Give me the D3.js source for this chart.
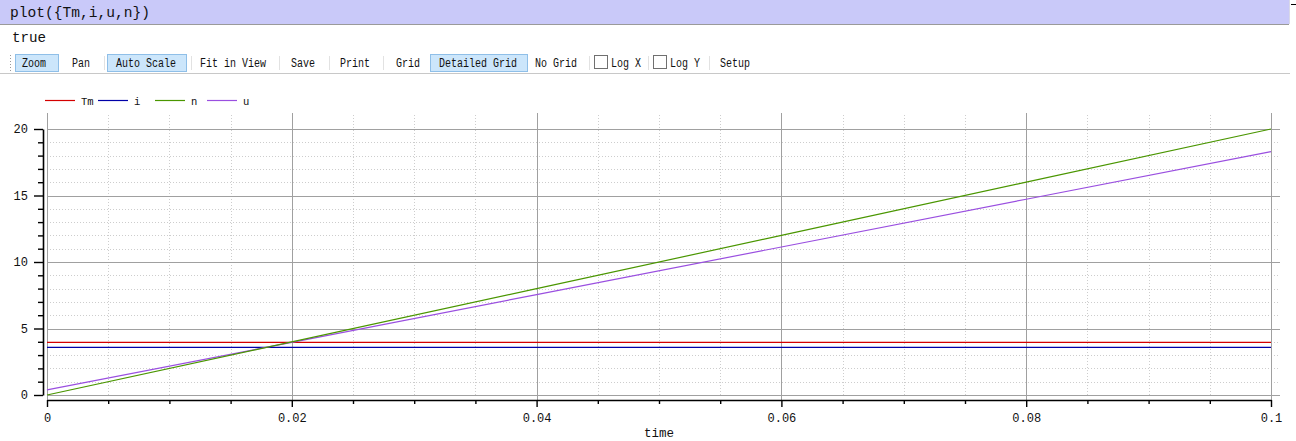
<!DOCTYPE html>
<html><head><meta charset="utf-8">
<script src="https://cdn.jsdelivr.net/npm/d3@7"></script>
<style>html,body{margin:0;padding:0;background:#fff;overflow:hidden}</style>
</head><body>
<script>
// ---- data ----
const time = [0, 0.02, 0.04, 0.06, 0.08, 0.1];
const Tm = [3.96, 3.96, 3.96, 3.96, 3.96, 3.96];
const iVals = [3.58, 3.58, 3.58, 3.58, 3.58, 3.58];
const nVals = [0, 4, 8, 12, 16, 20];
const uVals = [0.38, 3.96, 7.55, 11.13, 14.72, 18.3];
const seriesNames = ["Tm", "i", "n", "u"];
const xTicks = [0, 0.02, 0.04, 0.06, 0.08, 0.1];
const xTickLabels = ["0", "0.02", "0.04", "0.06", "0.08", "0.1"];
const yTicks = [0, 5, 10, 15, 20];
const toolbarItems = ["Zoom", "Pan", "Auto Scale", "Fit in View", "Save", "Print", "Grid", "Detailed Grid", "No Grid", "Log X", "Log Y", "Setup"];

const W = 1296, H = 441;
const svg = d3.select("body").append("svg").attr("width", W).attr("height", H)
  .style("font-family", "'Liberation Mono', monospace");

// header
svg.append("rect").attr("x", 0).attr("y", 0).attr("width", 1289).attr("height", 24).attr("fill", "#c9c9f9");
svg.append("line").attr("x1", 0).attr("x2", 1289).attr("y1", 24.5).attr("y2", 24.5).attr("stroke", "#9a9a9a");
svg.append("line").attr("x1", 1289.5).attr("x2", 1289.5).attr("y1", 0).attr("y2", 24).attr("stroke", "#d8d8e8");
svg.append("line").attr("x1", 1291).attr("x2", 1296).attr("y1", 4.5).attr("y2", 4.5).attr("stroke", "#000");
svg.append("text").attr("x", 10).attr("y", 17).attr("font-size", 14).attr("fill", "#111")
  .attr("textLength", 140).attr("lengthAdjust", "spacingAndGlyphs").text("plot({Tm,i,u,n})");
svg.append("text").attr("x", 12).attr("y", 42).attr("font-size", 14).attr("fill", "#111")
  .attr("textLength", 34).attr("lengthAdjust", "spacingAndGlyphs").text("true");

// toolbar
svg.append("line").attr("x1", 0).attr("x2", 1290).attr("y1", 73.5).attr("y2", 73.5).attr("stroke", "#c8c8c8");
svg.append("line").attr("x1", 10.5).attr("x2", 10.5).attr("y1", 55).attr("y2", 71).attr("stroke", "#999").attr("stroke-dasharray", "1,2");
const tbLayout = {
  "Zoom": {x: 22, box: [15, 58]}, "Pan": {x: 72}, "Auto Scale": {x: 116, box: [107, 186]},
  "Fit in View": {x: 200}, "Save": {x: 291}, "Print": {x: 340}, "Grid": {x: 396},
  "Detailed Grid": {x: 439, box: [430, 527]}, "No Grid": {x: 535},
  "Log X": {x: 611, check: 594}, "Log Y": {x: 670, check: 653}, "Setup": {x: 720}
};
const seps = [104, 191, 279, 329, 383, 589, 648, 709];
seps.forEach(s => svg.append("line").attr("x1", s + .5).attr("x2", s + .5).attr("y1", 56).attr("y2", 70).attr("stroke", "#e2e2e2"));
toolbarItems.forEach(name => {
  const L = tbLayout[name];
  if (L.box) svg.append("rect").attr("x", L.box[0] + .5).attr("y", 54.5).attr("width", L.box[1] - L.box[0]).attr("height", 17)
    .attr("fill", "#cce6fb").attr("stroke", "#8fbfe8");
  if (L.check) svg.append("rect").attr("x", L.check + .5).attr("y", 55.5).attr("width", 13).attr("height", 13)
    .attr("fill", "#fff").attr("stroke", "#707070");
  svg.append("text").attr("x", L.x).attr("y", 67).attr("font-size", 12).attr("fill", "#111")
    .attr("textLength", name.length * 6).attr("lengthAdjust", "spacingAndGlyphs").text(name);
});

// scales
const x = d3.scaleLinear().domain([0, 0.1]).range([47, 1271]);
const y = d3.scaleLinear().domain([0, 20]).range([395, 129]);

// grid
const g = svg.append("g");
const minorX = d3.range(0, 0.1001, 0.005).filter(v => Math.abs(v / 0.02 - Math.round(v / 0.02)) > 1e-6);
const minorY = d3.range(0, 20.001, 1).filter(v => v % 5 !== 0);
g.selectAll(".mx").data(minorX).join("line").attr("x1", d => Math.round(x(d)) + .5).attr("x2", d => Math.round(x(d)) + .5)
  .attr("y1", 115).attr("y2", 395).attr("stroke", "#cdcdcd").attr("stroke-dasharray", "1,2");
g.selectAll(".my").data(minorY).join("line").attr("y1", d => Math.round(y(d)) + .5).attr("y2", d => Math.round(y(d)) + .5)
  .attr("x1", 47).attr("x2", 1280).attr("stroke", "#cdcdcd").attr("stroke-dasharray", "1,2");
g.selectAll(".Mx").data(xTicks).join("line").attr("x1", d => Math.round(x(d)) + .5).attr("x2", d => Math.round(x(d)) + .5)
  .attr("y1", 113).attr("y2", 400).attr("stroke", "#a0a0a0");
g.selectAll(".My").data(yTicks).join("line").attr("y1", d => Math.round(y(d)) + .5).attr("y2", d => Math.round(y(d)) + .5)
  .attr("x1", 47).attr("x2", 1280).attr("stroke", "#a0a0a0");

// axes
svg.append("g").attr("transform", "translate(43,0)")
  .call(d3.axisLeft(y).tickValues(yTicks).tickSize(9).tickSizeOuter(0).tickPadding(6).tickFormat(d3.format("d")));
svg.append("g").attr("transform", "translate(43,0)")
  .call(d3.axisLeft(y).tickValues(minorY).tickSize(5).tickSizeOuter(0).tickFormat(""))
  .select(".domain").remove();
svg.append("g").attr("transform", "translate(0,400)")
  .call(d3.axisBottom(x).tickValues(xTicks).tickSize(7).tickSizeOuter(0).tickPadding(6).tickFormat((d, i) => xTickLabels[i]));
svg.append("g").attr("transform", "translate(0,400)")
  .call(d3.axisBottom(x).tickValues(minorX).tickSize(4).tickSizeOuter(0).tickFormat(""))
  .select(".domain").remove();
svg.selectAll(".tick text").attr("font-family", "'Liberation Mono', monospace").attr("font-size", 12).attr("fill", "#111");
svg.selectAll(".domain").attr("stroke-width", 1.6);
svg.selectAll(".tick line").attr("stroke-width", 1.4);
svg.append("text").attr("x", 659).attr("y", 437).attr("text-anchor", "middle").attr("font-size", 12.5).attr("fill", "#111").text("time");

// series
const colors = {Tm: "#d40000", i: "#0000a8", n: "#4a9600", u: "#9a4fe0"};
const data = {Tm: Tm, i: iVals, n: nVals, u: uVals};
const line = d3.line().x((d, k) => x(time[k])).y(d => y(d));
["Tm", "i", "u", "n"].forEach(s => {
  svg.append("path").datum(data[s]).attr("d", line).attr("fill", "none").attr("stroke", colors[s]).attr("stroke-width", 1.2);
});

// legend
const legendX = [45, 98, 155, 207];
seriesNames.forEach((s, k) => {
  const lx = legendX[k];
  svg.append("line").attr("x1", lx).attr("x2", lx + 30).attr("y1", 100.5).attr("y2", 100.5).attr("stroke", colors[s]).attr("stroke-width", 1.2);
  svg.append("text").attr("x", lx + 36).attr("y", 104.5).attr("font-size", 10.5).attr("fill", "#111").text(s);
});
</script>
</body></html>
